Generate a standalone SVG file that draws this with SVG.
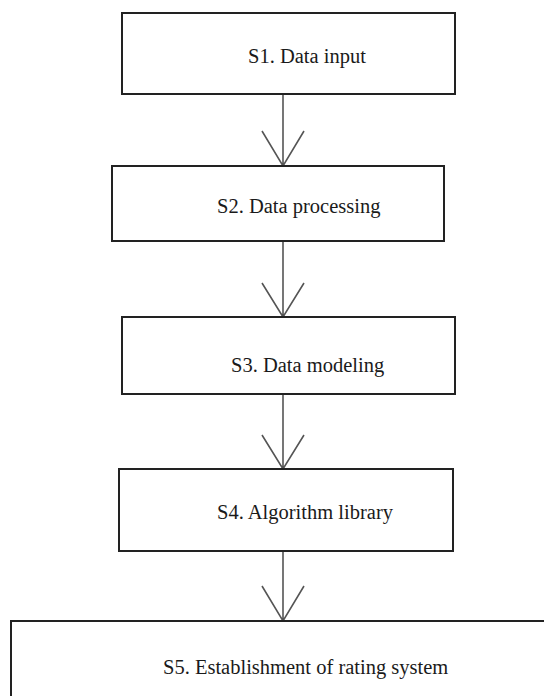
<svg xmlns="http://www.w3.org/2000/svg" width="544" height="696" viewBox="0 0 544 696">
<style>
.box{fill:#fff;stroke:#222;stroke-width:2}
.lbl{font-family:"Liberation Serif","Times New Roman",serif;font-size:20.5px;fill:#1a1a1a}
.con{fill:none;stroke:#555;stroke-width:1.6}
</style>
<rect width="544" height="696" fill="#fff"/>
<g id="connectors">
<path class="con" d="M283 94V166M262 131L283 166L304 131"/>
<path class="con" d="M283 241V317M262 283L283 317L304 283"/>
<path class="con" d="M283 394V469M262 435L283 469L304 435"/>
<path class="con" d="M283 551V621M262 586L283 621L304 586"/>
</g>
<g id="s1"><rect class="box" x="122" y="13" width="333" height="81"/><text class="lbl" x="248" y="63">S1. Data input</text></g>
<g id="s2"><rect class="box" x="112" y="166" width="332" height="75"/><text class="lbl" x="217" y="213">S2. Data processing</text></g>
<g id="s3"><rect class="box" x="122" y="317" width="333" height="77"/><text class="lbl" x="231" y="372">S3. Data modeling</text></g>
<g id="s4"><rect class="box" x="119" y="469" width="334" height="82"/><text class="lbl" x="217" y="519">S4. Algorithm library</text></g>
<g id="s5"><rect class="box" x="11" y="621" width="560" height="100"/><text class="lbl" x="163" y="674">S5. Establishment of rating system</text></g>
</svg>
